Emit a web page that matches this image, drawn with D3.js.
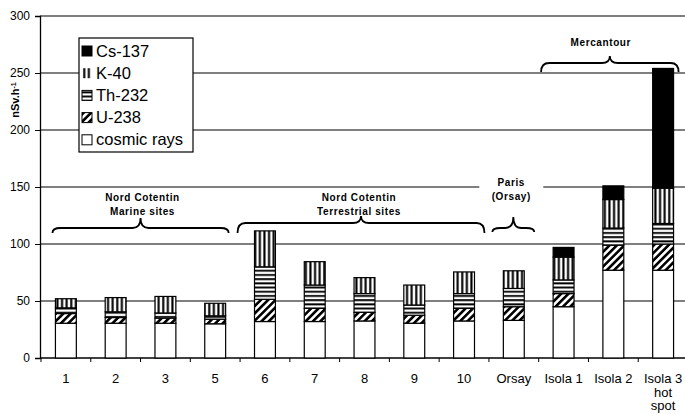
<!DOCTYPE html>
<html>
<head>
<meta charset="utf-8">
<script src="https://cdn.jsdelivr.net/npm/d3@7"></script>
<style>
  body { margin: 0; background: #fff; }
  svg { display: block; font-family: "Liberation Sans", Arial, sans-serif; }
</style>
</head>
<body>
<svg width="685" height="414"></svg>
<script>
// sites (x axis)
const sites = ["1", "2", "3", "5", "6", "7", "8", "9", "10", "Orsay", "Isola 1", "Isola 2", "Isola 3 hot spot"];
const siteLabels = [["1"], ["2"], ["3"], ["5"], ["6"], ["7"], ["8"], ["9"], ["10"], ["Orsay"], ["Isola 1"], ["Isola 2"], ["Isola 3", "hot", "spot"]];

// dose rate contributions, nSv/h
const cosmic = [30.5, 30.5, 30.5, 30, 32, 32, 32.5, 30.5, 32.5, 33, 45, 77, 77];
const u238 = [8.5, 5, 4.5, 4, 19.5, 11.5, 7.5, 7, 11, 12, 11.5, 22, 23];
const th232 = [5, 5, 4.5, 3, 28.5, 20.5, 16.5, 9, 13, 16, 12, 15, 18];
const k40 = [8, 12.5, 14.5, 11, 31.5, 20.5, 14, 17.5, 19, 15.5, 20, 25, 31];
const cs137 = [0, 0, 0, 0, 0, 0, 0, 0, 0, 0, 8.5, 12, 105];

const yTicks = [0, 50, 100, 150, 200, 250, 300];
const seriesKeys = ["cosmic", "u238", "th232", "k40", "cs137"];
const legendNames = ["Cs-137", "K-40", "Th-232", "U-238", "cosmic rays"];
const legendKeys = ["cs137", "k40", "th232", "u238", "cosmic"];

// groups of sites with a brace above
const groups = [
  { lines: ["Nord Cotentin", "Marine sites"], from: "1", to: "5" },
  { lines: ["Nord Cotentin", "Terrestrial sites"], from: "6", to: "10" },
  { lines: ["Paris", "(Orsay)"], from: "Orsay", to: "Orsay" },
  { lines: ["Mercantour"], from: "Isola 1", to: "Isola 3 hot spot" }
];

const svg = d3.select("svg");
const width = +svg.attr("width");

const x = d3.scaleBand().domain(sites).range([41, 688]).paddingInner(0.58).paddingOuter(0.29);
const y = d3.scaleLinear().domain([0, 300]).range([358, 16]);

// patterns
const defs = svg.append("defs");
const pV = defs.append("pattern").attr("id", "pK").attr("patternUnits", "userSpaceOnUse")
  .attr("width", 4.6).attr("height", 10);
pV.append("rect").attr("width", 4.6).attr("height", 10).attr("fill", "#fff");
pV.append("rect").attr("x", 1.2).attr("width", 2.1).attr("height", 10).attr("fill", "#000");

const pH = defs.append("pattern").attr("id", "pTh").attr("patternUnits", "userSpaceOnUse")
  .attr("width", 10).attr("height", 4.2);
pH.append("rect").attr("width", 10).attr("height", 4.2).attr("fill", "#fff");
pH.append("rect").attr("y", 1).attr("width", 10).attr("height", 1.9).attr("fill", "#000");

const pD = defs.append("pattern").attr("id", "pU").attr("patternUnits", "userSpaceOnUse")
  .attr("width", 5.2).attr("height", 10).attr("patternTransform", "rotate(45)");
pD.append("rect").attr("width", 5.2).attr("height", 10).attr("fill", "#fff");
pD.append("rect").attr("width", 2.6).attr("height", 10).attr("fill", "#000");

const fills = { cosmic: "#fff", u238: "url(#pU)", th232: "url(#pTh)", k40: "url(#pK)", cs137: "#000" };

// gridlines
svg.append("g").selectAll("line").data(yTicks.slice(1)).join("line")
  .attr("x1", 40).attr("x2", width)
  .attr("y1", d => y(d)).attr("y2", d => y(d))
  .attr("stroke", "#000").attr("stroke-width", 1.2);

// y axis
const yAxis = svg.append("g").attr("transform", "translate(40,0)")
  .call(d3.axisLeft(y).tickValues(yTicks).tickSize(5).tickPadding(5));
yAxis.select(".domain").attr("stroke-width", 1.3);
yAxis.selectAll("text").attr("font-size", 12).attr("font-family", "Liberation Sans, Arial").attr("fill", "#000");

svg.append("text")
  .attr("transform", "translate(19,100) rotate(-90)")
  .attr("text-anchor", "middle")
  .attr("font-size", 11).attr("font-weight", "bold")
  .text("nSv.h")
  .append("tspan").attr("baseline-shift", "super").attr("font-size", 7).text("-1");

// x axis
svg.append("line").attr("x1", 40).attr("x2", width).attr("y1", y(0)).attr("y2", y(0))
  .attr("stroke", "#000").attr("stroke-width", 1.3);
svg.append("g").selectAll("line").data(d3.range(sites.length + 1)).join("line")
  .attr("x1", i => x.range()[0] + i * x.step()).attr("x2", i => x.range()[0] + i * x.step())
  .attr("y1", y(0)).attr("y2", y(0) + 4)
  .attr("stroke", "#000");

const lab = svg.append("g").selectAll("text").data(sites).join("text")
  .attr("x", d => x(d) + x.bandwidth() / 2)
  .attr("y", 383)
  .attr("text-anchor", "middle")
  .attr("font-size", 13);
lab.each(function (d, i) {
  d3.select(this).selectAll("tspan").data(siteLabels[i]).join("tspan")
    .attr("x", x(d) + x.bandwidth() / 2)
    .attr("dy", (t, j) => (j === 0 ? 0 : 13.5))
    .text(t => t);
});

// stacked bars
const table = sites.map((s, i) => ({
  site: s, cosmic: cosmic[i], u238: u238[i], th232: th232[i], k40: k40[i], cs137: cs137[i]
}));
const stacked = d3.stack().keys(seriesKeys)(table);

svg.append("g").selectAll("g").data(stacked).join("g")
  .attr("fill", d => fills[d.key])
  .selectAll("rect").data(d => d.filter(p => p[1] > p[0])).join("rect")
  .attr("x", d => x(d.data.site))
  .attr("width", x.bandwidth())
  .attr("y", d => y(d[1]))
  .attr("height", d => y(d[0]) - y(d[1]))
  .attr("stroke", "#000").attr("stroke-width", 1.2);

// braces and group titles
function brace(x1, x2, xt, yEnd, yLine, yTip) {
  const r = 8;
  return `M${x1},${yEnd} Q${x1},${yLine} ${x1 + r},${yLine} L${xt - r},${yLine} Q${xt},${yLine} ${xt},${yTip}` +
    ` Q${xt},${yLine} ${xt + r},${yLine} L${x2 - r},${yLine} Q${x2},${yLine} ${x2},${yEnd}`;
}
const braceCfg = [
  { padL: 3, padR: 3, yEnd: 233, yLine: 228, yTip: 218, ty: 201, dx: 2 },
  { padL: 17, padR: 10, yEnd: 233, yLine: 223, yTip: 216, ty: 201, dx: -2 },
  { padL: 11, padR: 10, yEnd: 232, yLine: 228, yTip: 217, ty: 186, dx: -2 },
  { padL: 12, padR: 5, yEnd: 72, yLine: 63, yTip: 56, ty: 46, dx: -9 }
];
groups.forEach((g, i) => {
  const c = braceCfg[i];
  const x1 = x(g.from) - c.padL;
  const x2 = x(g.to) + x.bandwidth() + c.padR;
  const xm = (x1 + x2) / 2;
  svg.append("path").attr("d", brace(x1, x2, xm, c.yEnd, c.yLine, c.yTip))
    .attr("fill", "none").attr("stroke", "#000").attr("stroke-width", 1.8);
  if (g.from === "Orsay") {
    svg.append("rect").attr("x", xm - 34).attr("y", 174).attr("width", 64).attr("height", 28).attr("fill", "#fff");
  }
  svg.append("text")
    .attr("x", xm + c.dx).attr("y", c.ty)
    .attr("text-anchor", "middle")
    .attr("font-size", 10).attr("font-weight", "bold").attr("letter-spacing", 0.6)
    .selectAll("tspan").data(g.lines).join("tspan")
    .attr("x", xm + c.dx).attr("dy", (t, j) => (j === 0 ? 0 : 13.5))
    .text(t => t);
});

// legend
const leg = svg.append("g");
leg.append("rect").attr("x", 79).attr("y", 38).attr("width", 114).attr("height", 114)
  .attr("fill", "#fff").attr("stroke", "#000").attr("stroke-width", 1.2);
const item = leg.selectAll("g").data(legendKeys).join("g")
  .attr("transform", (d, i) => `translate(82,${46 + i * 22.2})`);
item.append("rect").attr("width", 10).attr("height", 10)
  .attr("fill", d => fills[d])
  .attr("stroke", d => (d === "k40" ? "none" : "#000")).attr("stroke-width", 1);
item.append("text").attr("x", 14).attr("y", 10.5)
  .attr("font-size", 16.5)
  .text((d, i) => legendNames[i]);
</script>
</body>
</html>
